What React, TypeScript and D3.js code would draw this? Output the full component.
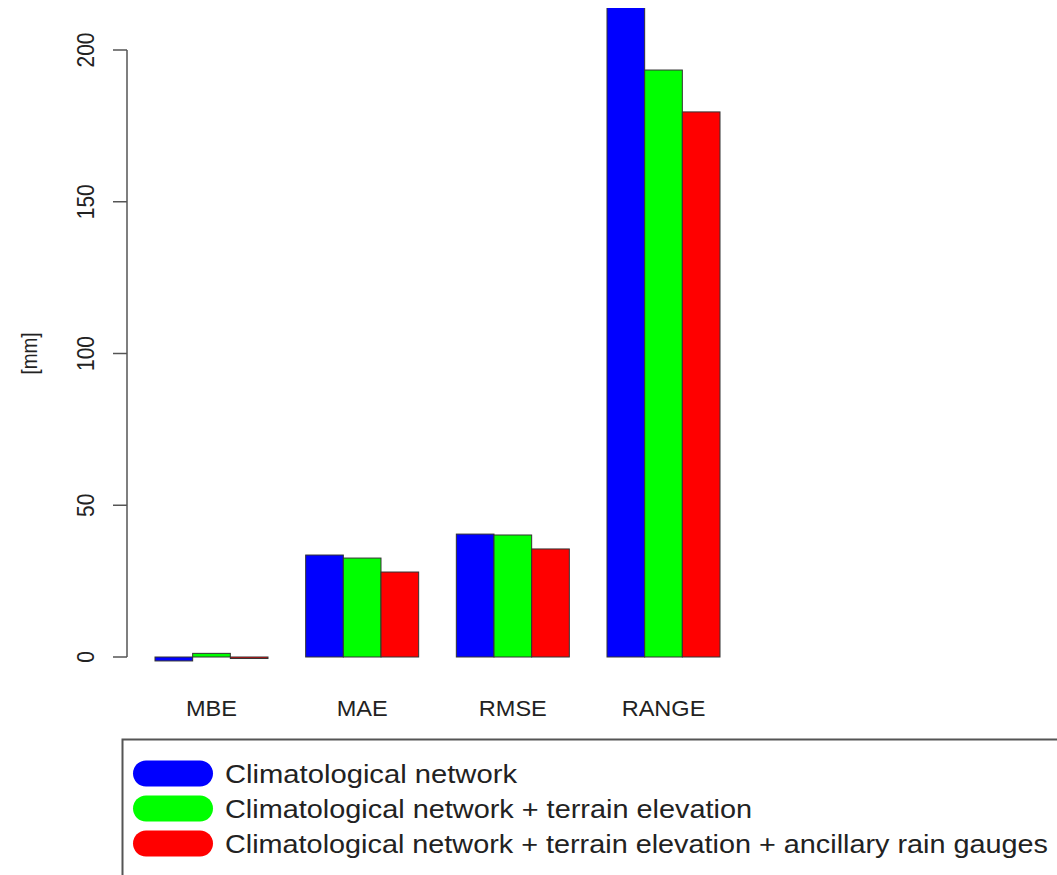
import React from "react";
import * as d3 from "d3";

const categories = ["MBE", "MAE", "RMSE", "RANGE"];
const seriesNames = [
  "Climatological network",
  "Climatological network + terrain elevation",
  "Climatological network + terrain elevation + ancillary rain gauges",
];
const seriesColors = ["#0000ff", "#00ff00", "#ff0000"];
const climNetwork = [-1.3, 33.6, 40.5, 240];
const climTerrain = [1.2, 32.6, 40.2, 193.4];
const climTerrainGauges = [-0.5, 28.0, 35.6, 179.6];
const yTicks = [0, 50, 100, 150, 200];

const series = [climNetwork, climTerrain, climTerrainGauges];

export default function App() {
  const W = 1057;
  const H = 875;
  const plotTop = 8;
  // bar-unit scale: each group = 1 space unit + 3 bars
  const x = d3.scaleLinear().domain([0, 16]).range([117.33, 720]);
  const y = d3.scaleLinear().domain([0, 200]).range([657, 50]);
  const font = "'Liberation Sans', Arial, Helvetica, sans-serif";
  const textCol = "#222";

  const legendWidths = [292, 527, 823];

  return (
    <svg
      width={W}
      height={H}
      style={{ position: "absolute", left: 0, top: 0, background: "#fff" }}
      fontFamily={font}
    >
      <defs>
        <clipPath id="plotclip">
          <rect x={0} y={plotTop} width={W} height={H - plotTop} />
        </clipPath>
      </defs>
      <g clipPath="url(#plotclip)">
        {categories.map((c, gi) =>
          series.map((s, si) => {
            const u = 1 + gi * 4 + si;
            const v = s[gi];
            const y0 = y(0);
            const y1 = y(v);
            return (
              <rect
                key={c + si}
                x={x(u)}
                width={x(u + 1) - x(u)}
                y={Math.min(y0, y1)}
                height={Math.abs(y1 - y0)}
                fill={seriesColors[si]}
                stroke="#333"
                strokeWidth={1}
              />
            );
          })
        )}
      </g>
      {/* y axis */}
      <line x1={127} x2={127} y1={y(200)} y2={y(0)} stroke="#555" strokeWidth={1.5} />
      {yTicks.map((t) => (
        <g key={t}>
          <line x1={113} x2={127} y1={y(t)} y2={y(t)} stroke="#555" strokeWidth={1.5} />
          <text
            transform={`translate(94,${y(t)}) scale(1.15,1) rotate(-90)`}
            textAnchor="middle"
            fontSize={21}
            fill={textCol}
          >
            {t}
          </text>
        </g>
      ))}
      <text
        transform={`translate(37,${y(100)}) scale(1.15,1) rotate(-90)`}
        textAnchor="middle"
        fontSize={19}
        fill={textCol}
      >
        [mm]
      </text>
      {categories.map((c, gi) => (
        <text
          key={c}
          transform={`translate(${x(1 + gi * 4 + 1.5)},716) scale(1.07,1)`}
          textAnchor="middle"
          fontSize={22}
          fill={textCol}
        >
          {c}
        </text>
      ))}
      {/* legend */}
      <rect x={122.5} y={739.5} width={1000} height={200} fill="none" stroke="#555" strokeWidth={2} />
      {seriesNames.map((n, i) => {
        const cy = 773.5 + i * 35;
        return (
          <g key={n}>
            <rect x={133} y={cy - 13} width={80} height={26} rx={13} ry={13} fill={seriesColors[i]} />
            <text
              x={225}
              y={cy + 9}
              fontSize={25}
              fill={textCol}
              textLength={legendWidths[i]}
              lengthAdjust="spacingAndGlyphs"
            >
              {n}
            </text>
          </g>
        );
      })}
    </svg>
  );
}
